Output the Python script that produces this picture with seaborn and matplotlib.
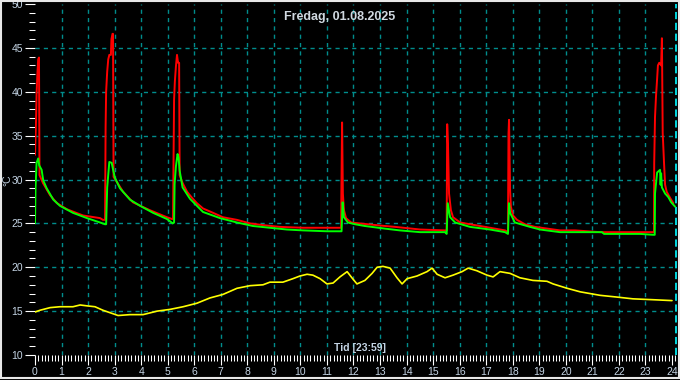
import matplotlib
matplotlib.use("Agg")
import matplotlib.pyplot as plt
import matplotlib.patches as patches
from matplotlib.ticker import MultipleLocator
import seaborn as sns

# Values (hours, deg C)
red_t = [0.00, 0.04, 0.06, 0.09, 0.12, 0.15, 0.17, 0.30, 0.57, 0.83, 1.21, 1.81, 2.45, 2.56, 2.64,
         2.66, 2.68, 2.72, 2.76, 2.80, 2.86, 2.88, 2.92, 2.94, 2.96, 3.09, 3.32, 3.69, 4.33, 4.97, 5.16, 5.20,
         5.24, 5.27, 5.31, 5.35, 5.39, 5.43, 5.45, 5.56, 5.73, 5.92, 6.10, 6.33, 6.71, 7.08, 7.61, 8.10,
         8.59, 9.23, 10.10, 11.00, 11.53,
         11.57, 11.60, 11.64, 11.72, 11.91, 12.21, 13.19, 13.57, 14.51, 15.45, 15.51,
         15.53, 15.56, 15.60, 15.67, 15.75, 16.02, 16.39, 16.77, 17.33, 17.71, 17.82,
         17.84, 17.86, 17.90, 17.93, 18.01, 18.16, 18.46, 18.84, 19.78, 20.35, 21.29, 23.29, 23.32,
         23.33, 23.36, 23.40, 23.44, 23.47, 23.52, 23.59, 23.62, 23.65, 23.70, 23.74, 23.80, 23.93, 24.05]
red_v = [32.8, 36.8, 39.8, 42.0, 43.7, 43.9, 30.5, 29.6, 28.2, 27.3, 26.6, 25.9, 25.6, 25.4, 25.4,
         36.0, 40.0, 42.3, 43.7, 44.2, 44.2, 46.0, 46.6, 46.6, 30.3, 29.7, 28.6, 27.4, 26.5, 25.7, 25.5, 25.5,
         39.1, 41.2, 42.9, 44.2, 43.3, 43.3, 30.5, 29.6, 28.6, 27.9, 27.3, 26.7, 26.2, 25.7, 25.4, 25.0,
         24.8, 24.6, 24.5, 24.5, 24.5,
         36.5, 28.4, 26.5, 25.6, 25.1, 25.0, 24.7, 24.6, 24.3, 24.2, 24.2,
         36.3, 34.0, 28.4, 26.5, 25.7, 25.1, 24.9, 24.7, 24.4, 24.2, 24.0,
         35.2, 36.8, 28.8, 26.9, 25.9, 25.4, 24.9, 24.6, 24.2, 24.2, 24.0, 24.0, 24.0,
         31.9, 37.1, 39.6, 41.5, 43.0, 43.3, 43.0, 46.1, 35.3, 31.9, 29.4, 28.6, 27.9, 27.3]

green_t = [0.00, 0.02, 0.06, 0.12, 0.16, 0.25, 0.31, 0.44, 0.69, 0.94, 1.43, 1.96, 2.45, 2.64,
           2.68, 2.72, 2.80, 2.89, 2.93, 3.01, 3.20, 3.58, 3.96, 4.45, 4.97, 5.19,
           5.24, 5.26, 5.31, 5.37, 5.41, 5.45, 5.56, 5.84, 6.33, 6.97, 7.61, 8.21, 8.85, 9.49, 10.10,
           11.00, 11.55,
           11.59, 11.64, 11.79, 12.06, 12.43, 13.19, 13.75, 14.51, 15.45, 15.51,
           15.55, 15.64, 15.83, 16.39, 17.14, 17.71, 17.82,
           17.86, 17.90, 18.08, 18.65, 19.03, 19.78, 21.36, 21.44, 22.80, 23.29, 23.35,
           23.36, 23.44, 23.55, 23.57, 23.59, 23.62, 23.74, 23.86, 23.97, 24.12]
green_v = [25.0, 29.1, 31.9, 32.4, 31.6, 31.1, 29.9, 29.0, 27.7, 27.0, 26.2, 25.6, 25.1, 24.9,
           24.9, 29.1, 32.0, 31.9, 31.3, 30.2, 29.0, 27.7, 27.0, 26.2, 25.5, 25.0,
           25.1, 29.5, 31.5, 32.9, 32.5, 31.0, 29.1, 27.8, 26.3, 25.6, 25.1, 24.7, 24.5, 24.3, 24.2,
           24.1, 24.1,
           27.4, 25.7, 25.1, 24.9, 24.7, 24.4, 24.2, 24.0, 24.0, 23.8,
           27.3, 25.7, 25.1, 24.6, 24.3, 24.0, 23.8,
           27.3, 26.2, 25.1, 24.6, 24.3, 24.0, 24.0, 23.8, 23.8, 23.7, 23.7,
           28.4, 30.8, 31.1, 29.4, 30.7, 29.1, 28.4, 28.0, 27.4, 26.9]

yellow_t = [0.00, 0.19, 0.57, 0.94, 1.43, 1.70, 1.96, 2.26, 2.56, 2.94, 3.13, 3.58, 4.07, 4.60, 5.09,
            5.58, 6.10, 6.59, 7.08, 7.61, 8.10, 8.59, 8.85, 9.34, 9.72, 9.98, 10.25, 10.47, 10.74,
            11.00, 11.23, 11.49, 11.76, 11.94, 12.13, 12.43, 12.70, 12.89, 13.11, 13.38, 13.64, 13.83,
            14.02, 14.39, 14.77, 14.96, 15.15, 15.45, 15.75, 16.09, 16.32, 16.65, 17.03, 17.26, 17.52,
            17.90, 18.27, 18.76, 19.29, 19.52, 20.05, 20.54, 21.29, 21.93, 22.53, 23.29, 24.00]
yellow_v = [14.9, 15.1, 15.4, 15.5, 15.5, 15.7, 15.6, 15.5, 15.1, 14.7, 14.5, 14.6, 14.6, 15.0, 15.2,
            15.5, 15.9, 16.5, 16.9, 17.6, 17.9, 18.0, 18.3, 18.3, 18.7, 19.0, 19.2, 19.1, 18.7,
            18.1, 18.2, 18.9, 19.5, 18.8, 18.1, 18.5, 19.3, 20.0, 20.1, 19.9, 18.8, 18.1,
            18.7, 19.0, 19.5, 19.9, 19.2, 18.8, 19.1, 19.5, 19.9, 19.6, 19.1, 18.9, 19.5,
            19.3, 18.8, 18.5, 18.4, 18.1, 17.6, 17.2, 16.8, 16.6, 16.4, 16.3, 16.2]

hour_grid = list(range(1, 24))
temp_grid = [15, 20, 25, 30, 35, 40, 45]

title = "Fredag, 01.08.2025"
xlabel = "Tid [23:59]"
ylabel = "°C"

sns.set_theme(style="dark", rc={"axes.facecolor": "black", "figure.facecolor": "black"})
plt.rcParams["font.family"] = ["Liberation Sans", "DejaVu Sans"]

label_col = "#c4d4e4"
grid_col = "#008c8c"

fig = plt.figure(figsize=(6.8, 3.8), dpi=100)
ax = fig.add_axes([35 / 680, 25 / 380, 642.3 / 680, 351 / 380])
ax.set_facecolor("black")

for h in hour_grid:
    ax.axvline(h, color=grid_col, lw=1, ls=(0, (3, 3)), zorder=1)
for t in temp_grid:
    ax.axhline(t, color=grid_col, lw=1, ls=(0, (3, 3)), zorder=1)
ax.axvline(24.14, color="#00e8f0", lw=1.3, ls=(0, (4, 2)), zorder=1)

sns.lineplot(x=red_t, y=red_v, ax=ax, color="#ff0000", linewidth=1.4, estimator=None, sort=False, zorder=3)
sns.lineplot(x=green_t, y=green_v, ax=ax, color="#00ff00", linewidth=1.4, estimator=None, sort=False, zorder=4)
sns.lineplot(x=yellow_t, y=yellow_v, ax=ax, color="#ffff00", linewidth=1.2, estimator=None, sort=False, zorder=4)

ax.set_xlim(0, 24.2)
ax.set_ylim(10, 50)
ax.xaxis.set_major_locator(MultipleLocator(1))
ax.xaxis.set_minor_locator(MultipleLocator(0.125))
ax.yaxis.set_major_locator(MultipleLocator(5))
ax.yaxis.set_minor_locator(MultipleLocator(1))
ax.set_xticks(range(0, 25))
ax.tick_params(axis="both", which="major", direction="out", length=7, width=0.8, color="white",
               labelcolor=label_col, labelsize=7.5, pad=1.5)
ax.tick_params(axis="both", which="minor", direction="out", length=4, width=0.75, color="white")
ax.tick_params(axis="x", which="both", bottom=True)
ax.tick_params(axis="y", which="both", left=True)
for s in ax.spines.values():
    s.set_visible(False)
ax.grid(False)
ax.set_xlabel("")
ax.set_ylabel("")

fig.text(340 / 680, 1 - 17 / 380, title, ha="center", va="center", color="#d0d8e0",
         fontsize=9, fontweight="bold")
fig.text(360 / 680, 1 - 348 / 380, xlabel, ha="center", va="center", color=label_col,
         fontsize=7.5, fontweight="bold")
fig.text(7 / 680, 1 - 180 / 380, ylabel, ha="center", va="center", color=label_col,
         fontsize=7.5, rotation=90)

fig.patches.append(patches.Rectangle((0.5 / 680, 2 / 380), 678 / 680, 377 / 380,
                                     transform=fig.transFigure, fill=False,
                                     edgecolor="#e8e8e8", linewidth=1.5))

fig.savefig("out.png", dpi=100, facecolor="black")
